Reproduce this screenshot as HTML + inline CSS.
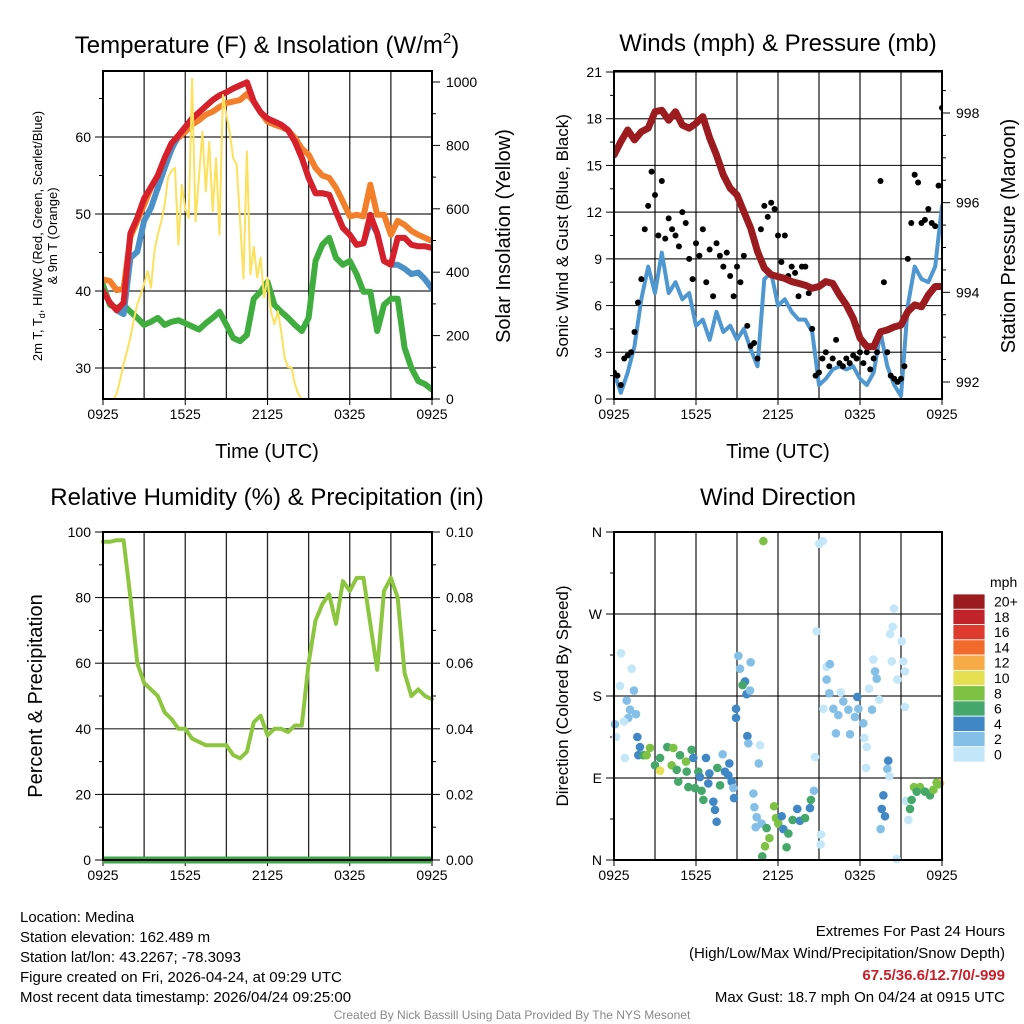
<!DOCTYPE html>
<html><head><meta charset="utf-8">
<style>
html,body{margin:0;padding:0;background:#fff;}
svg{display:block;font-family:"Liberation Sans",Arial,sans-serif;}
</style></head>
<body>
<svg id="chart" width="1024" height="1024" viewBox="0 0 1024 1024" xmlns="http://www.w3.org/2000/svg">
<rect width="1024" height="1024" fill="#fff"/>
<g id="p1"></g>
<g id="p2"></g>
<g id="p3"></g>
<g id="p4"></g>
<g id="txt">
<text x="267" y="53" font-size="24" text-anchor="middle">Temperature (F) &amp; Insolation (W/m<tspan font-size="15" dy="-10">2</tspan><tspan dy="10">)</tspan></text>
<text x="778" y="51" font-size="24" text-anchor="middle">Winds (mph) &amp; Pressure (mb)</text>
<text x="267" y="505" font-size="24" text-anchor="middle">Relative Humidity (%) &amp; Precipitation (in)</text>
<text x="778" y="505" font-size="24" text-anchor="middle">Wind Direction</text>
<text x="267" y="458" font-size="20" text-anchor="middle">Time (UTC)</text>
<text x="778" y="458" font-size="20" text-anchor="middle">Time (UTC)</text>
<text transform="translate(42,236) rotate(-90)" font-size="13" text-anchor="middle">2m T, T<tspan font-size="9" dy="3">d</tspan><tspan dy="-3">, HI/WC (Red, Green, Scarlet/Blue)</tspan></text>
<text transform="translate(57,236) rotate(-90)" font-size="13" text-anchor="middle">&amp; 9m T (Orange)</text>
<text transform="translate(510,236) rotate(-90)" font-size="20" text-anchor="middle">Solar Insolation (Yellow)</text>
<text transform="translate(568,236) rotate(-90)" font-size="17" text-anchor="middle">Sonic Wind &amp; Gust (Blue, Black)</text>
<text transform="translate(1015,236) rotate(-90)" font-size="20" text-anchor="middle">Station Pressure (Maroon)</text>
<text transform="translate(42,696) rotate(-90)" font-size="20" text-anchor="middle">Percent &amp; Precipitation</text>
<text transform="translate(568,696) rotate(-90)" font-size="17" text-anchor="middle">Direction (Colored By Speed)</text>
<text x="990" y="587" font-size="14">mph</text>
<g font-size="15">
<text x="20" y="922">Location: Medina</text>
<text x="20" y="942">Station elevation: 162.489 m</text>
<text x="20" y="962">Station lat/lon: 43.2267; -78.3093</text>
<text x="20" y="982">Figure created on Fri, 2026-04-24, at 09:29 UTC</text>
<text x="20" y="1002">Most recent data timestamp: 2026/04/24 09:25:00</text>
</g>
<g font-size="15" text-anchor="end">
<text x="1005" y="936">Extremes For Past 24 Hours</text>
<text x="1005" y="958">(High/Low/Max Wind/Precipitation/Snow Depth)</text>
<text x="1005" y="980" fill="#c8202a" font-weight="bold">67.5/36.6/12.7/0/-999</text>
<text x="1005" y="1002">Max Gust: 18.7 mph On 04/24 at 0915 UTC</text>
</g>
<text x="512" y="1019" font-size="12" fill="#888" text-anchor="middle">Created By Nick Bassill Using Data Provided By The NYS Mesonet</text>
</g>
</svg>
<script>
// ---- data (half-hourly unless noted) ----
const xTickLabels = ["0925","1525","2125","0325","0925"];
const tempRed = [40,38.5,37.5,38.5,47.5,49.5,52,53.5,55,57.3,59.2,60.2,61.3,62.4,63.2,64,64.8,65.4,65.8,66.3,66.7,67.1,64.6,63.2,62.4,62,61.6,60.9,59.4,57.3,54.7,52.7,52.7,52.5,50.3,48.2,47.3,46,46.2,49.9,47.5,43.9,43.4,46.9,46.9,46,45.8,45.8,45.6];
const tempOrange = [41.5,41.3,40.1,40.3,47,49.1,51.2,53.4,55,56.9,58.8,59.9,60.7,61.6,62.2,62.9,63.3,63.9,64.4,64.6,64.8,65.6,64.6,63.2,62,61.6,61.3,60.9,59.9,58.5,57.7,56,55,54.7,53.4,51.6,49.7,49.9,49.7,53.8,49.9,49.9,47.3,49.1,48.6,47.8,47.3,46.9,46.5];
const tempBlue = [40,38.5,37.5,37,44.3,45.1,49.1,50.8,53.4,56,58.4,60.2,61.3,62.4,63.2,64,64.8,65.4,65.8,66.3,66.7,67.1,64.6,63.2,62.4,62,61.6,60.9,59.4,57.3,54.7,52.7,52.7,52.5,50.3,48.2,47.3,46,46.2,49.1,47.5,43.9,43.4,43.4,42.9,42.2,42.4,41.5,40.3];
const dewGreen = [40.8,38.2,37.8,38.2,37.3,36.5,35.6,36,36.5,35.6,36,36.2,35.8,35.4,35,35.8,36.5,37.3,35.6,33.9,33.5,34.3,39,39.9,41.2,38.2,37.3,36.5,35.6,34.8,36.5,43.9,46,46.9,44.3,43.4,43.9,42.2,39.9,39.9,34.8,38.2,39,39,32.6,30,28.3,27.9,27.2];
// solar, 15-minute samples
const solar = [0,0,0,0,16,60,110,150,194,250,299,330,362,403,351,466,520,560,613,700,720,729,487,676,600,571,1010,560,700,843,655,811,592,760,519,959,896,840,760,739,560,380,781,393,480,383,446,320,383,277,236,277,214,131,100,100,47,16,0,0,0,0,0,0,0,0,0,0,0,0,0,0,0,0,0,0,0,0,0,0,0,0,0,0,0,0,0,0,0,0,0,0,0,0,0,0,0];
const windSpeed = [1.7,0.4,1.7,3.4,6.4,8.5,6.8,9.4,6.8,7.5,6.4,6.8,4.7,5.1,3.8,5.6,4.3,4.7,3.8,4.5,3.2,2.1,7.7,8.1,6,6.4,5.6,5.1,5.1,4.3,0.9,1.3,1.9,2.1,1.9,2.1,1.3,0.9,1.7,4.3,2.1,0.9,0.2,6,8.5,7.7,7.5,8.5,12.4];
// gusts, 15-minute samples
const windGust = [1.7,1.5,0.9,2.6,2.8,3,4.3,6.2,7.7,10.9,12.4,14.6,13.1,10.5,14,10.3,11.6,10.9,10.5,9.8,12,11.3,9,7.7,10,9.2,10.9,7.5,9.6,6.6,10,9.2,8.5,9.4,7.9,6.6,8.5,7.5,9.2,4.7,3.4,3.6,2.6,10.9,12.4,11.7,12.6,12.2,10.5,8.8,10.5,7.9,8.5,8.1,6.6,8.5,8.5,6.8,4.5,1.5,1.7,2.6,3,2.1,2.6,3.8,2.3,2.1,2.6,2.3,2.8,2.6,3,2.3,3,1.9,2.6,3,14,7.5,3,1.5,1.3,1.1,1.3,2.1,9,11.3,14.4,13.9,11.3,11.5,12.2,11.3,11.1,13.7,18.7];
const pressure = [997.06,997.36,997.62,997.4,997.58,997.66,998.03,998.06,997.84,998.03,997.73,997.66,997.77,997.92,997.44,997.06,996.62,996.32,996.17,995.8,995.43,994.91,994.54,994.39,994.35,994.31,994.24,994.2,994.16,994.09,994.13,994.24,994.2,993.94,993.72,993.42,992.98,992.79,992.79,993.12,993.16,993.23,993.27,993.57,993.72,993.68,993.94,994.13,994.13];
const rh = [97,97,97.5,97.5,80,60,54,52,50,45,43,40,40,37,36,35,35,35,35,32,31,33,42,44,38,40,40,39,41,41,60,73,78,81,72,85,82,86,86,72,58,82,86,80,57,50,52,50,49];
const precip = [0,0,0,0,0,0,0,0,0,0,0,0,0,0,0,0,0,0,0,0,0,0,0,0,0,0,0,0,0,0,0,0,0,0,0,0,0,0,0,0,0,0,0,0,0,0,0,0,0];
// wind direction scatter: hours since start, degrees, speed (mph)
const dirHours = [0.51,1.29,0.44,1.46,0.93,1.17,1.61,1.05,0.73,0.07,0.15,0.8,1.71,1.9,1.78,2.15,2.63,2.39,3,3.37,3.37,3.9,4.34,4.22,4.83,4.59,5.27,5.32,5.68,5.8,4.7,5.44,5.93,6.17,6.29,6.41,6.54,6.73,6.98,6.9,7.27,7.39,7.51,7.56,7.95,7.76,8.12,8.44,8.37,8.61,8.73,8.78,8.93,8.93,9.1,9.22,9.59,9.41,9.7,10,9.95,9.76,9.83,10.68,10.59,10.93,10.2,10.27,10.44,10.37,10.8,11.17,11.37,11.05,11.71,11.85,12.02,12.63,10.85,12.39,12.27,12.76,13.07,13.41,13.6,13.98,14.34,14.41,14.63,14.71,15.02,15.27,14.83,15.15,15.12,15.56,15.8,15.56,15.76,15.32,16.05,16.59,16.78,16.41,16.24,17.15,17.27,17.8,17.63,17.88,18.24,18.32,18.49,18.88,18.66,18.98,19.1,19.22,18.44,19.41,19.51,19.71,19.59,19.83,20.07,20,20.15,20.32,20.49,20.39,20.2,21.05,21.17,20.73,21.29,21.29,20.68,21.37,21.54,21.66,21.78,21.95,22.39,22.76,23.12,23.37,23.61,23.85,23.73,22.15];
const dirDeg = [227,210,191,186,175,165,160,156,152,149,135,112,135,124,115,115,123,115,104,98,112,124,123,104,115,99,108,97,121,112,86,80,79,97,91,76,66,112,95,84,64,55,42,101,116,82,97,106,93,86,79,68,166,156,224,210,196,192,182,217,186,136,128,126,106,350,73,58,47,36,40,35,24,15,59,46,40,14,4,34,48,29,44,56,43,46,57,66,76,113,347,350,251,28,17,212,215,198,183,166,166,184,174,159,139,165,138,179,157,166,150,134,124,165,188,220,207,199,101,176,34,71,56,48,109,100,92,218,276,256,248,240,218,198,207,168,1,65,44,56,66,80,80,75,71,77,85,84,83,75];
const dirSpd = [0,1,1,2,2,2,2,2,1,2,1,0,4,4,4,7,8,8,7,10,6,6,8,8,6,6,8,6,6,4,6,6,6,6,4,6,6,4,4,4,4,4,4,6,2,6,4,4,4,4,2,4,4,4,2,2,4,6,4,2,2,4,2,0,2,8,2,2,2,2,2,6,8,8,8,8,8,6,6,4,4,6,6,4,4,6,4,6,2,0,0,0,0,0,0,1,2,2,2,0,2,1,2,2,2,2,2,4,2,2,2,0,0,2,0,0,2,2,0,0,2,4,4,4,4,2,0,0,0,0,0,0,0,0,0,0,0,0,0,6,6,8,8,6,6,8,8,12,8,6];
const cbLabels = ["20+","18","16","14","12","10","8","6","4","2","0"];
const cbColors = ["#9b1b1e","#c1232b","#de3b2e","#ef6a2b","#f6ab47","#e6df52","#7dc243","#45a86a","#3f88c5","#83bfe7","#c3e7f8"];

// ---- helpers ----
const NS="http://www.w3.org/2000/svg";
function mk(parent,tag,attrs){const e=document.createElementNS(NS,tag);for(const k in attrs)e.setAttribute(k,attrs[k]);parent.appendChild(e);return e;}
function scale(d0,d1,r0,r1){return v=>r0+(v-d0)*(r1-r0)/(d1-d0);}
function spdColor(s){let i=Math.min(10,Math.floor(s/2));return cbColors[10-i];}

function frame(g,L,R,T,B,xs){
  for(let h=3;h<24;h+=3){const l=mk(g,'line',{x1:xs(h),x2:xs(h),y1:T,y2:B,stroke:'#000','stroke-width':1.3,'stroke-opacity':0.85});
    }
  xTickLabels.forEach((lab,i)=>{const h=i*6;const t=mk(g,'text',{x:xs(h),y:B+20,'font-size':14,'text-anchor':'middle'});t.textContent=lab;
    
    mk(g,'line',{x1:xs(h),x2:xs(h),y1:B,y2:B+6,stroke:'#000'});});
}
function box(g,L,R,T,B){const r=mk(g,'rect',{x:L,y:T,width:R-L,height:B-T,fill:'none',stroke:'#000','stroke-width':2});
  }
function hgrid(g,L,R,y){const l=mk(g,'line',{x1:L,x2:R,y1:y,y2:y,stroke:'#000','stroke-width':1.2,'stroke-opacity':0.85});
  }
function ytickL(g,L,y,lab,minor){mk(g,'line',{x1:L-(minor?4:8),x2:L,y1:y,y2:y,stroke:'#000'});
  if(lab!==null){const t=mk(g,'text',{x:L-12,y:y+5,'font-size':14,'text-anchor':'end'});t.textContent=lab;
  }}
function ytickR(g,R,y,lab,minor){mk(g,'line',{x1:R,x2:R+(minor?4:8),y1:y,y2:y,stroke:'#000'});
  if(lab!==null){const t=mk(g,'text',{x:R+14,y:y+5,'font-size':14,'text-anchor':'start'});t.textContent=lab;
  }}
function path(g,vals,xs,ys,step,attrs,name){let d='';vals.forEach((v,i)=>{if(v===null)return;d+=(d?'L':'M')+xs(i*step).toFixed(1)+','+ys(v).toFixed(1);});
  const p=mk(g,'path',Object.assign({d:d,fill:'none','stroke-linejoin':'round','stroke-linecap':'round'},attrs));
  return p;}

// ---- panel 1 ----
(function(){const g=document.getElementById('p1');const L=103,R=432,T=71,B=399;
 const xs=scale(0,24,L,R),yT=scale(40,60,291,137),yS=scale(0,1000,399,82);
 frame(g,L,R,T,B,xs);
 [30,40,50,60].forEach(v=>hgrid(g,L,R,yT(v)));
 for(let v=30;v<=65;v+=5)ytickL(g,L,yT(v),v%10===0?String(v):null,v%10!==0);
 for(let v=0;v<=1000;v+=100)ytickR(g,R,yS(v),v%200===0?String(v):null,v%200!==0);
 const c=mk(g,'g',{'clip-path':'url(#c1)'});
 const cp=mk(mk(g,'defs',{}),'clipPath',{id:'c1'});mk(cp,'rect',{x:L,y:T,width:R-L,height:B-T});
 path(c,dewGreen,xs,yT,0.5,{stroke:'#3fae3f','stroke-width':6},'dewpoint-line');
 path(c,tempOrange,xs,yT,0.5,{stroke:'#f47f2a','stroke-width':6},'temp-9m-line');
 path(c,tempBlue,xs,yT,0.5,{stroke:'#4a90c9','stroke-width':6},'heat-index-windchill-line');
 path(c,tempRed,xs,yT,0.5,{stroke:'#d7202a','stroke-width':6},'temp-2m-line');
 path(c,solar,xs,yS,0.25,{stroke:'#fbe15c','stroke-width':2},'solar-insolation-line');
 box(g,L,R,T,B);})();

// ---- panel 2 ----
(function(){const g=document.getElementById('p2');const L=614,R=942,T=71,B=399;
 const xs=scale(0,24,L,R),yW=scale(0,21,B,72),yP=scale(992,998,382,113);
 frame(g,L,R,T,B,xs);
 for(let v=0;v<=21;v+=3){hgrid(g,L,R,yW(v));ytickL(g,L,yW(v),String(v),false);}
 for(let v=1.5;v<21;v+=3)ytickL(g,L,yW(v),null,true);
 for(let v=991.5;v<=998.5;v+=0.5){const y=yP(v);if(y<T||y>B)continue;ytickR(g,R,y,(v%2===0)?String(v):null,v%2!==0);}
 const cp=mk(mk(g,'defs',{}),'clipPath',{id:'c2'});mk(cp,'rect',{x:L,y:T,width:R-L,height:B-T});
 const c=mk(g,'g',{'clip-path':'url(#c2)'});
 path(c,windSpeed,xs,yW,0.5,{stroke:'#4f97d0','stroke-width':4},'sonic-wind-line');
 windGust.forEach((v,i)=>{const d=mk(c,'circle',{cx:xs(i*0.25),cy:yW(v),r:3,fill:'#000'});
   });
 path(c,pressure,xs,yP,0.5,{stroke:'#9b1b1e','stroke-width':7},'pressure-line');
 box(g,L,R,T,B);})();

// ---- panel 3 ----
(function(){const g=document.getElementById('p3');const L=103,R=432,T=532,B=860;
 const xs=scale(0,24,L,R),yR=scale(0,100,B,T),yP=scale(0,0.1,B,T);
 frame(g,L,R,T,B,xs);
 for(let v=0;v<=100;v+=20){hgrid(g,L,R,yR(v));ytickL(g,L,yR(v),String(v),false);}
 for(let v=10;v<100;v+=20)ytickL(g,L,yR(v),null,true);
 for(let k=0;k<=10;k++){const v=k/100;ytickR(g,R,yP(v),k%2===0?v.toFixed(2):null,k%2!==0);}
 path(g,rh,xs,yR,0.5,{stroke:'#8cc63f','stroke-width':4},'relative-humidity-line');
 path(g,precip,xs,yP,0.5,{stroke:'#3aa845','stroke-width':7,'stroke-linecap':'butt'},'precipitation-line');
 box(g,L,R,T,B);})();

// ---- panel 4 ----
(function(){const g=document.getElementById('p4');const L=614,R=942,T=532,B=860;
 const xs=scale(0,24,L,R),yD=scale(0,360,B,T);
 frame(g,L,R,T,B,xs);
 ["N","E","S","W","N"].forEach((lab,i)=>{hgrid(g,L,R,yD(i*90));ytickL(g,L,yD(i*90),lab,false);});
 for(let v=45;v<360;v+=90)ytickL(g,L,yD(v),null,true);
 dirHours.forEach((h,i)=>{const d=mk(g,'circle',{cx:xs(h),cy:yD(dirDeg[i]),r:4.3,fill:spdColor(dirSpd[i])});
   });
 box(g,L,R,T,B);
 const cb=mk(g,'g',{});
 const top=594,hh=168/11;
 cbColors.forEach((col,i)=>{mk(cb,'rect',{x:953,y:top+i*hh,width:32,height:hh,fill:col,stroke:'#fff','stroke-width':0.8});
   const t=mk(cb,'text',{x:994,y:top+i*hh+hh/2+5,'font-size':14});t.textContent=cbLabels[i];
   });
})();
</script>
</body></html>
